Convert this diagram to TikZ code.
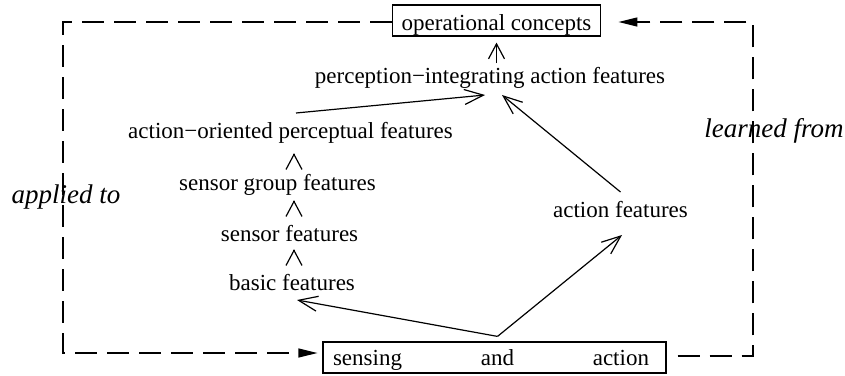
\documentclass[tikz,border=0pt]{standalone}
\usepackage{fontspec}
\setmainfont{Liberation Serif}
\usetikzlibrary{arrows.meta}

\begin{document}
\begin{tikzpicture}[x=1pt,y=-1pt,
  every node/.style={font=\fontsize{23}{27}\selectfont},
  feat/.style={anchor=base, inner sep=0pt, text height=16pt, text depth=5pt},
  framed/.style={draw, line width=1.2pt},
  stick/.style={line width=1.2pt, -{Straight Barb[length=15pt,width=16pt]}},
  longstick/.style={line width=1.2pt, -{Straight Barb[length=19pt,width=15pt]}},
  loopline/.style={line width=1.2pt, dash pattern=on 22pt off 10pt,
                   -{Triangle[length=19pt,width=9pt]}},
  lbl/.style={anchor=base, inner sep=0pt, font=\fontsize{27}{32}\selectfont\itshape},
]
\useasboundingbox (0,0) rectangle (845,375);

% feature hierarchy
\node[feat, framed, text height=20pt, text depth=1pt, inner xsep=9.5pt, inner ysep=5pt]
  (ops) at (496.5,30) {operational concepts};
\node[feat] (perc) at (490,83)    {perception−integrating action features};
\node[feat] (aop)  at (290.5,138) {action−oriented perceptual features};
\node[feat] (sgf)  at (277.5,190) {sensor group features};
\node[feat] (sf)   at (289.5,241) {sensor features};
\node[feat] (bf)   at (292,290)   {basic features};
\node[feat] (af)   at (620.5,217) {action features};
\node[feat, framed, text height=23pt, text depth=8pt, inner xsep=10pt, inner ysep=0pt]
  (sa) at (494.5,365) {\makebox[316pt]{sensing\hfill and\hfill action}\hspace*{7pt}};

% side labels
\node[lbl] (appl) at (66,203)  {applied to};
\node[lbl] (lrn)  at (774,137) {learned from};

% outer loop corners
\coordinate (tl) at (63,22);
\coordinate (bl) at (63,353);
\coordinate (tr) at (753,22);
\coordinate (br) at (753,356);

\draw[loopline] (ops.west |- tl) -- (tl) -- (bl) -- ([xshift=-5pt]sa.west |- bl);
\draw[loopline] ([xshift=11pt]sa.east |- br) -- (br) -- (tr) -- ([xshift=17pt]ops.east |- tr);

% left stack: only the heads show between the lines of text
\coordinate (stackx) at (294,0);
\draw[stick, shorten <=24pt, shorten >=3pt] (bf.north -| stackx) -- (sf.south -| stackx);
\draw[stick, shorten <=24pt, shorten >=5pt] (sf.north -| stackx) -- (sgf.south -| stackx);
\draw[stick, shorten <=20pt, shorten >=10pt] (sgf.north -| stackx) -- (aop.south -| stackx);

% from sensing and action
\coordinate (fork) at ([xshift=3pt,yshift=5pt]sa.north);
\draw[longstick] (fork) -- ([xshift=5pt,yshift=-10pt]bf.base);
\draw[longstick] (fork) -- ([xshift=1.5pt,yshift=-18pt]af.base);

% into perception-integrating features
\draw[longstick] ([yshift=25pt]af.base) -- ([xshift=12pt,yshift=-12pt]perc.base);
\draw[longstick] ([xshift=5.5pt,yshift=25pt]aop.base) -- ([xshift=-5pt,yshift=-12pt]perc.base);

% up to operational concepts
\coordinate (pt) at ([yshift=20pt]perc.base);
\draw[stick] (pt -| ops.south) -- ([yshift=-6pt]ops.south);
\end{tikzpicture}
\end{document}
